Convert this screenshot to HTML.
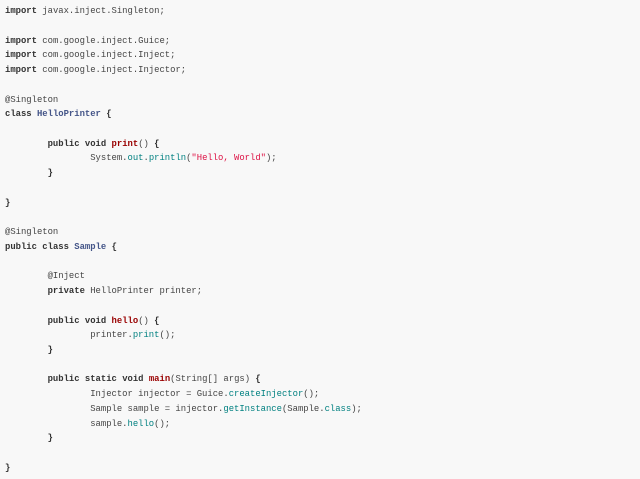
<!DOCTYPE html>
<html><head><style>
html,body{margin:0;padding:0;background:#f8f8f8;width:640px;height:479px;overflow:hidden}
pre{margin:0;padding:4.1px 0 0 5px;font-family:"Liberation Mono",monospace;font-size:8.9px;line-height:14.74px;color:#444;tab-size:8;-moz-tab-size:8;white-space:pre}
.k{font-weight:bold;color:#333}
.nc{font-weight:bold;color:#445588}
.nf{font-weight:bold;color:#990000}
.na{color:#008080}
.s{color:#dd1144}
</style></head><body><pre><span class="k">import</span> javax.inject.Singleton;

<span class="k">import</span> com.google.inject.Guice;
<span class="k">import</span> com.google.inject.Inject;
<span class="k">import</span> com.google.inject.Injector;

@Singleton
<span class="k">class</span> <span class="nc">HelloPrinter</span> <span class="k">{</span>

	<span class="k">public</span> <span class="k">void</span> <span class="nf">print</span>() <span class="k">{</span>
		System.<span class="na">out</span>.<span class="na">println</span>(<span class="s">"Hello, World"</span>);
	<span class="k">}</span>

<span class="k">}</span>

@Singleton
<span class="k">public</span> <span class="k">class</span> <span class="nc">Sample</span> <span class="k">{</span>

	@Inject
	<span class="k">private</span> HelloPrinter printer;

	<span class="k">public</span> <span class="k">void</span> <span class="nf">hello</span>() <span class="k">{</span>
		printer.<span class="na">print</span>();
	<span class="k">}</span>

	<span class="k">public</span> <span class="k">static</span> <span class="k">void</span> <span class="nf">main</span>(String[] args) <span class="k">{</span>
		Injector injector = Guice.<span class="na">createInjector</span>();
		Sample sample = injector.<span class="na">getInstance</span>(Sample.<span class="na">class</span>);
		sample.<span class="na">hello</span>();
	<span class="k">}</span>

<span class="k">}</span>
</pre></body></html>
